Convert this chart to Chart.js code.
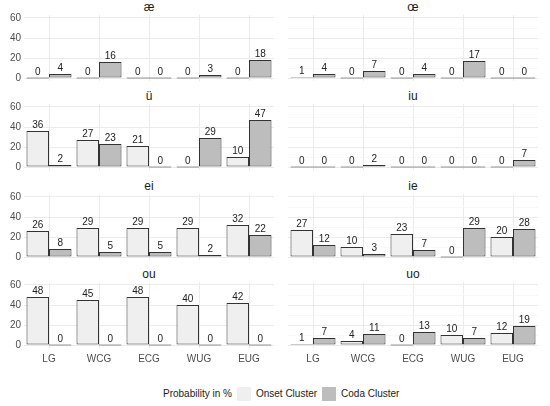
<!DOCTYPE html>
<html>
<head>
<meta charset="utf-8">
<script src="https://cdn.jsdelivr.net/npm/chart.js@4.4.1/dist/chart.umd.min.js"></script>
<style>
    body { margin: 0; background: #fff; width: 550px; height: 406px; position: relative; overflow: hidden;
           font-family: "Liberation Sans", Arial, sans-serif; }
    .panel { position: absolute; }
    .ttl { position: absolute; font-size: 12px; font-weight: normal; color: #1a1a1a; text-align: center; line-height: 14px; }
    #legend { position: absolute; left: 163px; top: 387px; font-size: 10px; color: #1a1a1a;
              display: flex; align-items: center; line-height: 14px; white-space: nowrap; }
    .sw { display: inline-block; width: 14px; height: 14px; margin: 0 5px 0 5px; }
</style>
</head>
<body>
<div id="legend"></div>
<script>
// Chart data
const categories = ['LG', 'WCG', 'ECG', 'WUG', 'EUG'];
const seriesNames = ['Onset Cluster', 'Coda Cluster'];
const legendTitle = 'Probability in %';
const panelTitles = ['æ', 'œ', 'ü', 'iu', 'ei', 'ie', 'ou', 'uo'];
const onsetCluster = [
    [0, 0, 0, 0, 0],
    [1, 0, 0, 0, 0],
    [36, 27, 21, 0, 10],
    [0, 0, 0, 0, 0],
    [26, 29, 29, 29, 32],
    [27, 10, 23, 0, 20],
    [48, 45, 48, 40, 42],
    [1, 4, 0, 10, 12]
];
const codaCluster = [
    [4, 16, 0, 3, 18],
    [4, 7, 4, 17, 0],
    [2, 23, 0, 29, 47],
    [0, 2, 0, 0, 7],
    [8, 5, 5, 2, 22],
    [12, 3, 7, 29, 28],
    [0, 0, 0, 0, 0],
    [7, 11, 13, 7, 19]
];
const yTicks = [0, 20, 40, 60];
const yMinorTicks = [10, 30, 50];

const colors = ['#efefef', '#bdbdbd'];
const fontFamily = '"Liberation Sans", Arial, sans-serif';

// panel layout
const rowZero = [78, 167, 257, 345];
const colLeft = [0, 288];
const yAxisW = [24, 0];
const plotW = 250;
const padTop = 8;

// draws the numbers above each bar
const valueLabels = {
    id: 'valueLabels',
    afterDatasetsDraw(chart) {
        const ctx = chart.ctx;
        ctx.save();
        ctx.font = '10px ' + fontFamily;
        ctx.fillStyle = '#222';
        ctx.textAlign = 'center';
        ctx.textBaseline = 'alphabetic';
        chart.data.datasets.forEach((ds, i) => {
            chart.getDatasetMeta(i).data.forEach((bar, j) => {
                ctx.fillText(ds.data[j], bar.x, Math.min(bar.y, bar.base) - 3);
            });
        });
        ctx.restore();
    }
};

function makePanel(p) {
    const row = Math.floor(p / 2);
    const col = p % 2;
    const bottom = row === 3;
    const xAxisH = bottom ? 18 : 0;
    const padBottom = bottom ? 0 : 2;
    const zero = rowZero[row];
    const top = zero - 63 - padTop;
    const w = yAxisW[col] + plotW;
    const h = padTop + 66 + xAxisH + padBottom;

    const title = document.createElement('div');
    title.className = 'ttl';
    title.style.left = (colLeft[col] + yAxisW[col]) + 'px';
    title.style.width = plotW + 'px';
    title.style.top = (zero - 78) + 'px';
    title.textContent = panelTitles[p];
    document.body.appendChild(title);

    const box = document.createElement('div');
    box.className = 'panel';
    box.style.left = colLeft[col] + 'px';
    box.style.top = top + 'px';
    box.style.width = w + 'px';
    box.style.height = h + 'px';
    const canvas = document.createElement('canvas');
    box.appendChild(canvas);
    document.body.appendChild(box);

    new Chart(canvas.getContext('2d'), {
        type: 'bar',
        data: {
            labels: categories,
            datasets: [
                { label: seriesNames[0], data: onsetCluster[p], backgroundColor: colors[0] },
                { label: seriesNames[1], data: codaCluster[p], backgroundColor: colors[1] }
            ]
        },
        options: {
            responsive: true,
            maintainAspectRatio: false,
            animation: false,
            events: [],
            layout: { padding: { top: padTop, bottom: padBottom, left: 0, right: 0 } },
            datasets: {
                bar: {
                    categoryPercentage: 0.9,
                    barPercentage: 1,
                    borderColor: '#333',
                    borderWidth: 1,
                    borderSkipped: false,
                    minBarLength: 1
                }
            },
            plugins: { legend: { display: false }, tooltip: { enabled: false } },
            scales: {
                x: {
                    offset: true,
                    grid: { offset: false, color: '#ebebeb', drawTicks: false },
                    border: { display: false },
                    ticks: { display: bottom, padding: 5, color: '#4d4d4d', font: { size: 10, family: fontFamily } },
                    afterFit(scale) {
                        scale.height = xAxisH;
                        scale.paddingLeft = 0;
                        scale.paddingRight = 0;
                    }
                },
                y: {
                    min: -3,
                    max: 63,
                    afterBuildTicks(scale) {
                        scale.ticks = yTicks.concat(yMinorTicks).sort((a, b) => a - b).map(v => ({ value: v }));
                    },
                    grid: {
                        drawTicks: false,
                        color: c => yTicks.includes(c.tick.value) ? '#ebebeb' : '#f5f5f5',
                        lineWidth: c => yTicks.includes(c.tick.value) ? 1 : 0.7
                    },
                    border: { display: false },
                    ticks: {
                        display: col === 0,
                        padding: 3,
                        color: '#4d4d4d',
                        font: { size: 10, family: fontFamily },
                        callback: v => yTicks.includes(v) ? v : ''
                    },
                    afterFit(scale) {
                        scale.width = yAxisW[col];
                        scale.paddingTop = 0;
                        scale.paddingBottom = 0;
                    }
                }
            }
        },
        plugins: [valueLabels]
    });
}

for (let p = 0; p < panelTitles.length; p++) makePanel(p);

// legend built from the series names
const legend = document.getElementById('legend');
const lt = document.createElement('span');
lt.textContent = legendTitle;
legend.appendChild(lt);
seriesNames.forEach((name, i) => {
    const sw = document.createElement('span');
    sw.className = 'sw';
    sw.style.background = colors[i];
    legend.appendChild(sw);
    const t = document.createElement('span');
    t.textContent = name;
    legend.appendChild(t);
});
</script>
</body>
</html>
